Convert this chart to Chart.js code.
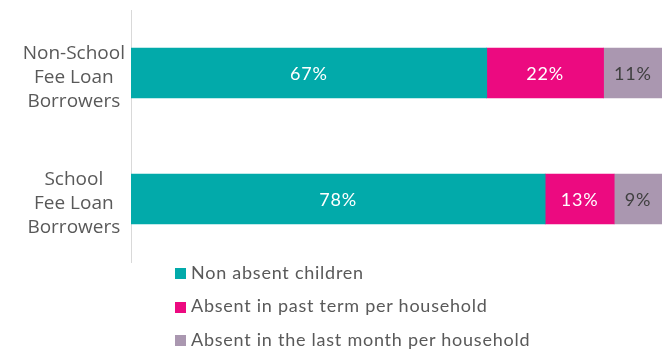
<!DOCTYPE html>
<html>
<head>
<meta charset="utf-8">
<script src="https://cdn.jsdelivr.net/npm/chart.js@4"></script>
<style>
  html, body { margin: 0; padding: 0; background: #fff; }
  #wrap { position: relative; width: 668px; height: 350px; }
  #box { position: absolute; left: 0; top: 0; width: 668px; height: 264px; }
  #legend { position: absolute; left: 175px; top: 255px; font-family: "Lato", sans-serif; font-size: 18px; letter-spacing: 0.75px; color: #595959; }
  #legend div { height: 33.5px; line-height: 22px; display: flex; align-items: center; }
  #legend span.sw { display: inline-block; width: 11px; height: 11px; margin-right: 5px; margin-top: 4px; }
</style>
</head>
<body>
<div id="wrap">
  <div id="box"><canvas id="chart"></canvas></div>
  <div id="legend"></div>
</div>
<script>
const categories = [
  ["Non-School", "Fee Loan", "Borrowers"],
  ["School", "Fee Loan", "Borrowers"]
];
const seriesNames = ["Non absent children", "Absent in past term per household", "Absent in the last month per household"];
const nonAbsent = [67, 78];
const absentTerm = [22, 13];
const absentMonth = [11, 9];
const colors = ["#02AAAA", "#EC0A80", "#AA97B0"];
const labelColors = ["#FFFFFF", "#FFFFFF", "#404040"];

// draws the % values in the middle of each segment
const segmentLabels = {
  id: "segmentLabels",
  afterDatasetsDraw(chart) {
    const ctx = chart.ctx;
    ctx.save();
    ctx.font = "18px Lato, sans-serif";
    ctx.letterSpacing = "0.8px";
    ctx.textAlign = "center";
    ctx.textBaseline = "middle";
    chart.data.datasets.forEach((ds, i) => {
      chart.getDatasetMeta(i).data.forEach((bar, j) => {
        const p = bar.getCenterPoint();
        ctx.fillStyle = labelColors[i];
        ctx.fillText(ds.data[j] + "%", p.x, p.y + 1);
      });
    });
    ctx.restore();
  }
};

const values = [nonAbsent, absentTerm, absentMonth];

new Chart(document.getElementById("chart"), {
  type: "bar",
  data: {
    labels: categories,
    datasets: values.map((v, i) => ({
      label: seriesNames[i],
      data: v,
      backgroundColor: colors[i],
      barThickness: 50
    }))
  },
  options: {
    indexAxis: "y",
    responsive: true,
    maintainAspectRatio: false,
    animation: false,
    layout: { padding: { top: 10, right: 6, bottom: 2, left: 0 } },
    plugins: {
      legend: { display: false },
      tooltip: { enabled: false }
    },
    scales: {
      x: { stacked: true, min: 0, max: 100, display: false },
      y: {
        stacked: true,
        afterFit: (axis) => {
          axis.width = 131;
          axis.paddingTop = 0;
          axis.paddingBottom = 0;
        },
        grid: { display: false, drawTicks: false },
        border: { display: true, color: "#D9D9D9", width: 1 },
        ticks: {
          crossAlign: "center",
          padding: 6,
          labelOffset: 5,
          color: "#595959",
          font: { family: "Open Sans", size: 19, lineHeight: 1.26 }
        }
      }
    }
  },
  plugins: [segmentLabels]
});

const legend = document.getElementById("legend");
seriesNames.forEach((name, i) => {
  const row = document.createElement("div");
  row.innerHTML = '<span class="sw" style="background:' + colors[i] + '"></span>' + name;
  legend.appendChild(row);
});
</script>
</body>
</html>
